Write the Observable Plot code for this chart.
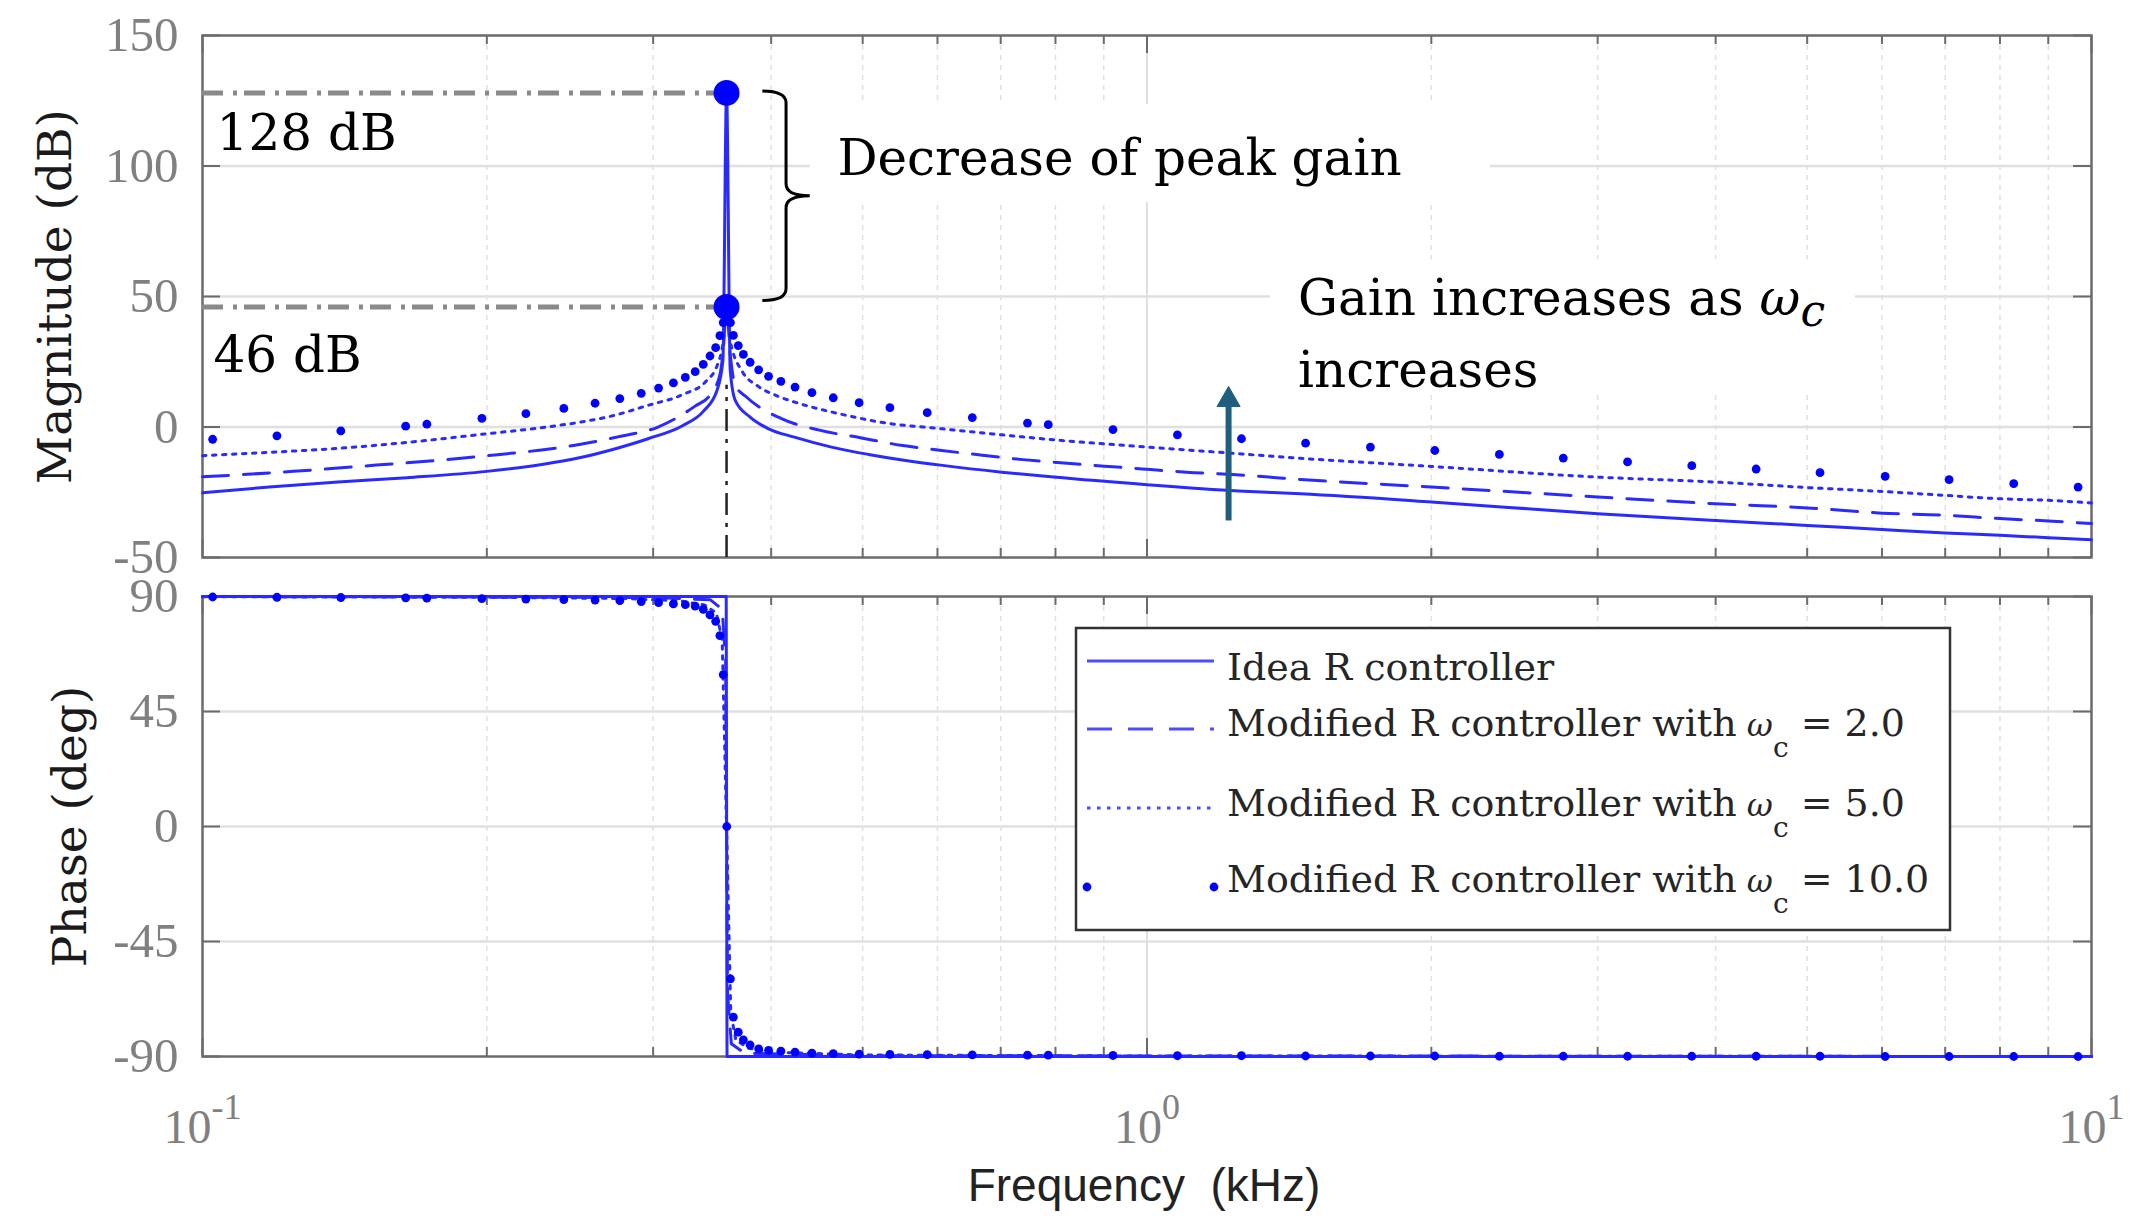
<!DOCTYPE html>
<html>
<head>
<meta charset="utf-8">
<script src="https://cdn.jsdelivr.net/npm/d3@7"></script>
<script src="https://cdn.jsdelivr.net/npm/@observablehq/plot@0.6"></script>
<style>
  html, body { margin: 0; padding: 0; background: #fff; }
  #chart { position: relative; width: 2144px; height: 1225px; overflow: hidden; background: #fff; }
  #chart svg { display: block; position: absolute; left: 0; overflow: visible; }
</style>
</head>
<body>
<div id="chart"></div>
<script>
// ---------------- data ----------------
const f0 = 0.3588; // resonant frequency, kHz

// Ideal R controller – magnitude (dB)
const freqIdeal = [0.1, 0.1177, 0.1392, 0.1647, 0.2, 0.2304, 0.2506, 0.2725, 0.2963, 0.3223, 0.339, 0.3505, 0.3556, 0.3588, 0.362, 0.3665, 0.38, 0.3975, 0.4233, 0.4634, 0.5072, 0.5549, 0.6074, 0.7019, 0.7962, 1.0, 1.25, 1.454, 2, 3, 4, 5, 6, 7, 8, 9, 10];
const magIdeal  = [-25.2, -23.0, -21.1, -19.4, -17.0, -14.2, -11.8, -8.5, -4.5, 0.5, 6.0, 14.0, 25.3, 128, 22, 10.2, 3.8, -0.7, -3.9, -7.7, -10.5, -12.8, -14.7, -17.3, -19.2, -22.1, -24.5, -25.6, -28.7, -33.2, -35.8, -37.7, -39.3, -40.6, -41.5, -42.4, -43.2];

// Modified R controller, wc = 2.0 – magnitude (dB)
const freqWc2 = [0.1, 0.1248, 0.1527, 0.1867, 0.2065, 0.2285, 0.2506, 0.276, 0.3027, 0.332, 0.345, 0.353, 0.356, 0.3588, 0.362, 0.3665, 0.3766, 0.4102, 0.451, 0.497, 0.5488, 0.6061, 0.6694, 0.7392, 0.8164, 0.9016, 1.0, 1.101, 1.219, 1.346, 1.454, 2, 3, 4, 5, 6, 7, 8, 9, 10];
const magWc2  = [-19.1, -17.0, -14.6, -12.1, -10.5, -8.8, -6.7, -3.7, -0.2, 7.9, 12.5, 20.0, 30.0, 46.0, 28.0, 16.0, 11.5, 3.2, -1.3, -4.1, -7.0, -9.0, -10.8, -12.5, -13.8, -15.0, -16.2, -17.3, -18.1, -19.2, -20.1, -23.0, -26.8, -29.4, -31.0, -33.0, -33.8, -35.1, -36.0, -37.0];

// Modified R controller, wc = 5.0 – magnitude (dB)
const freqWc5 = [0.1, 0.1177, 0.1392, 0.1647, 0.2, 0.2304, 0.2506, 0.2725, 0.2963, 0.3223, 0.3419, 0.351, 0.356, 0.3588, 0.362, 0.3732, 0.3864, 0.4047, 0.4292, 0.4718, 0.521, 0.6074, 0.7019, 0.7962, 1.0, 1.142, 1.454, 2, 3, 4, 5, 6, 7, 8, 9, 10];
const magWc5  = [-11.0, -9.7, -8.2, -5.9, -2.6, -0.1, 1.8, 4.4, 8.3, 12.4, 17.8, 24.0, 33.0, 46.0, 33.0, 21.0, 15.9, 12.1, 8.9, 5.1, 1.9, -0.7, -3.0, -4.9, -7.7, -9.2, -12.0, -15.1, -19.2, -21.1, -23.2, -24.7, -26.2, -27.5, -28.1, -29.1];

// Modified R controller, wc = 10.0 – sample points (markers only)
const freqWc10  = [0.1025, 0.1199, 0.1401, 0.1641, 0.1728, 0.1976, 0.22, 0.2413, 0.2604, 0.2766, 0.2914, 0.304, 0.3152, 0.3245, 0.3324, 0.339, 0.3446, 0.3494, 0.353, 0.3559, 0.359, 0.3622, 0.3648, 0.3692, 0.3738, 0.38, 0.388, 0.3975, 0.4096, 0.424, 0.4418, 0.4654, 0.4957, 0.5343, 0.5852, 0.6532, 0.7472, 0.7861, 0.9204, 1.077, 1.259, 1.472, 1.724, 2.017, 2.361, 2.759, 3.227, 3.774, 4.415, 5.159, 6.047, 7.067, 8.273, 9.678];
const magWc10   = [-4.7, -3.4, -1.5, 0.3, 1.1, 3.3, 5.1, 7.1, 9.1, 10.9, 12.9, 14.9, 16.9, 19.0, 21.2, 24.0, 27.2, 30.4, 35.0, 40.0, 46.0, 40.0, 35.1, 31.2, 27.8, 24.8, 21.9, 19.4, 17.5, 15.3, 13.2, 11.2, 9.3, 7.4, 5.5, 3.6, 1.5, 0.9, -1.0, -3.0, -4.5, -6.2, -7.7, -9.0, -10.5, -11.9, -13.4, -14.8, -16.1, -17.5, -18.9, -20.2, -21.7, -23.0];
const phaseWc10 = [89.8, 89.7, 89.6, 89.5, 89.4, 89.2, 89.0, 88.8, 88.6, 88.4, 88.0, 87.6, 87.1, 86.8, 86.2, 85.0, 82.8, 80.3, 74.7, 59.4, 0.0, -59.6, -74.6, -80.5, -83.5, -85.5, -87.0, -87.6, -87.9, -88.3, -88.7, -88.9, -89.1, -89.2, -89.3, -89.4, -89.5, -89.5, -89.6, -89.7, -89.7, -89.8, -89.8, -89.8, -89.9, -89.9, -89.9, -89.9, -89.9, -89.9, -90.0, -90.0, -90.0, -90.0];

// Phase (deg) of the line series
const freqPhIdeal = [0.1, 0.3585, 0.3592, 10];
const phaseIdeal  = [90, 90, -90, -90];
const freqPhWc2 = [0.1, 0.3, 0.345, 0.355, 0.358, 0.3588, 0.3596, 0.363, 0.375, 0.5, 10];
const phaseWc2  = [90, 89.6, 88.7, 85, 65, 0, -65, -85, -88.7, -89.7, -90];
const freqPhWc5 = [0.1, 0.2, 0.28, 0.32, 0.34, 0.35, 0.355, 0.3588, 0.3625, 0.367, 0.378, 0.4, 0.5, 1, 10];
const phaseWc5  = [89.9, 89.7, 89.2, 88.3, 86.7, 83.5, 73, 0, -73, -83.5, -86.7, -88.3, -89.4, -89.8, -90];

// Peak annotations
const peakValues = [128, 46];

// Ticks
const xMajor = [0.1, 1, 10];
const xMinor = [0.2, 0.3, 0.4, 0.5, 0.6, 0.7, 0.8, 0.9, 2, 3, 4, 5, 6, 7, 8, 9];
const magTicks = [-50, 0, 50, 100, 150];
const phaseTicks = [-90, -45, 0, 45, 90];

// Text
const magLabel = "Magnitude (dB)";
const phaseLabel = "Phase (deg)";
const freqLabel = "Frequency\u00a0 (kHz)";
const legendNames = ["Idea R controller", "Modified R controller with", "Modified R controller with", "Modified R controller with"];
const legendWc = [null, "2.0", "5.0", "10.0"];

// Annotations (data coordinates: kHz, dB)
const notes = [
  {text: "128 dB", f: 0.1035, v: 106.2},
  {text: "46 dB", f: 0.1027, v: 21.0},
  {text: "Decrease of peak gain", f: 0.4701, v: 96.7},
  {text: "increases", f: 1.4454, v: 15.3}
];
const gainText = "Gain increases as";
const gainNote = [{text: gainText, f: 1.4454, v: 42.9}];
const whiteBoxes = [
  {x1: 0.4402, x2: 2.311, y1: 86, y2: 123.5},
  {x1: 1.351, x2: 5.625, y1: 13.5, y2: 64}
];
const brace = {f1: 0.392, f2: 0.44, top: 128.5, bottom: 48.3};
const arrow = [{f: 1.22, from: -36, to: 8, head: 10.4}];

// ---------------- styling ----------------
const W = 2144, ML = 202, MR = 53;
const BLUE = "#2a2aff", DOTBLUE = "#0000ff", TEAL = "#1f5e7e";
const GRID = "#e0e0e0", AXC = "#6b6b6b";
const serif = "DejaVu Serif";
const LW = 3;

const rows = (fs, vs) => fs.map((f, i) => ({f, v: vs[i]}));

function frameTicks(innerW, innerH, yTicks) {
  return [
    Plot.ruleX(xMinor, {insetTop: innerH - 9, stroke: AXC, strokeWidth: 2}),
    Plot.ruleX(xMinor, {insetBottom: innerH - 9, stroke: AXC, strokeWidth: 2}),
    Plot.ruleX(xMajor, {insetTop: innerH - 18, stroke: AXC, strokeWidth: 2}),
    Plot.ruleX(xMajor, {insetBottom: innerH - 18, stroke: AXC, strokeWidth: 2}),
    Plot.ruleY(yTicks, {insetRight: innerW - 18, stroke: AXC, strokeWidth: 2}),
    Plot.ruleY(yTicks, {insetLeft: innerW - 18, stroke: AXC, strokeWidth: 2}),
    Plot.frame({stroke: AXC, strokeWidth: 2.5})
  ];
}

function xGrid() {
  return [
    Plot.ruleX(xMinor, {stroke: GRID, strokeWidth: 1.5, strokeDasharray: "5,5"}),
    Plot.ruleX([1], {stroke: GRID, strokeWidth: 2})
  ];
}

// ---------------- magnitude panel ----------------
const topH = 580, topMT = 35, topMB = 23;
const topInnerH = topH - topMT - topMB, innerW = W - ML - MR;

const braceMark = (index, scales) => {
  const x = scales.x, y = scales.y;
  const xL = x(brace.f1), xT = x(brace.f2), xM = (xL + xT) / 2;
  const yT = y(brace.top), yB = y(brace.bottom), yM = (yT + yB) / 2, r = 12;
  const d = `M${xL},${yT} Q${xM},${yT} ${xM},${yT + r} L${xM},${yM - r} Q${xM},${yM} ${xT},${yM} ` +
            `Q${xM},${yM} ${xM},${yM + r} L${xM},${yB - r} Q${xM},${yB} ${xL},${yB}`;
  return d3.create("svg:path").attr("d", d).attr("fill", "none").attr("stroke", "#000").attr("stroke-width", 3).node();
};

const topPlot = Plot.plot({
  width: W, height: topH, marginTop: topMT, marginBottom: topMB, marginLeft: ML, marginRight: MR,
  style: {fontFamily: "Liberation Serif", fontSize: "48px", color: "#808080", background: "white"},
  x: {type: "log", domain: [0.1, 10], axis: null},
  y: {domain: [-50, 150]},
  marks: [
    Plot.gridY([0, 50, 100], {stroke: GRID, strokeOpacity: 1, strokeWidth: 2.5}),
    ...xGrid(),
    Plot.rect(whiteBoxes, {x1: "x1", x2: "x2", y1: "y1", y2: "y2", fill: "white"}),
    Plot.axisY({ticks: magTicks, tickSize: 0, tickPadding: 24, tickFormat: d => String(d), label: null, fontSize: 49}),
    ...frameTicks(innerW, topInnerH, magTicks),
    Plot.ruleY(peakValues, {x1: 0.1, x2: f0, stroke: "#8a8a8a", strokeWidth: 5, strokeDasharray: "21 10 4 7"}),
    Plot.ruleX([f0], {y1: -50, y2: 16, stroke: "#222", strokeWidth: 2.5, strokeDasharray: "22 8 4 8"}),
    Plot.line(rows(freqIdeal, magIdeal), {x: "f", y: "v", stroke: BLUE, strokeWidth: LW, curve: "monotone-x"}),
    Plot.line(rows(freqWc2, magWc2), {x: "f", y: "v", stroke: BLUE, strokeWidth: LW, strokeDasharray: "26 15", curve: "monotone-x"}),
    Plot.line(rows(freqWc5, magWc5), {x: "f", y: "v", stroke: BLUE, strokeWidth: LW, strokeDasharray: "3.5 6.5", curve: "monotone-x"}),
    Plot.dot(rows(freqWc10, magWc10), {x: "f", y: "v", r: 4.4, fill: DOTBLUE}),
    Plot.dot(peakValues.map(v => ({f: f0, v})), {x: "f", y: "v", r: 13, fill: DOTBLUE}),
    Plot.ruleX(arrow, {x: "f", y1: "from", y2: "to", stroke: TEAL, strokeWidth: 6}),
    Plot.dot(arrow, {x: "f", y: "head", symbol: "triangle", r: 8.6, fill: TEAL, stroke: TEAL, strokeWidth: 1}),
    braceMark,
    Plot.text(notes, {x: "f", y: "v", text: "text", textAnchor: "start", lineAnchor: "bottom", fontFamily: serif, fontSize: 50, fill: "#000"}),
    Plot.text(gainNote, {x: "f", y: "v", text: "text", textAnchor: "start", lineAnchor: "bottom", fontFamily: serif, fontSize: 50, fill: "#000"}),
    Plot.text([magLabel], {frameAnchor: "left", text: d => d, rotate: -90, dx: -132, textAnchor: "middle", lineAnchor: "bottom", fontFamily: serif, fontSize: 47, fill: "#1a1a1a"})
  ]
});

// omega_c in the annotation
d3.select(topPlot).selectAll("text").filter(function () { return this.textContent === gainText; }).each(function () {
  d3.select(this).append("tspan").attr("font-style", "italic").text(" \u03c9");
  d3.select(this).append("tspan").attr("font-style", "italic").attr("font-size", 44).attr("dy", 11).text("c");
});

// ---------------- phase panel ----------------
const botH = 645, botMT = 16, botMB = 169;
const botInnerH = botH - botMT - botMB;

const legendMark = () => {
  const g = d3.create("svg:g").attr("transform", "translate(1076,48)").attr("text-anchor", "start");
  g.append("rect").attr("x", 0).attr("y", 0).attr("width", 874).attr("height", 302)
    .attr("fill", "white").attr("stroke", "#333").attr("stroke-width", 2.5);
  const lineY = [33, 101, 180, 259];
  const textY = [52, 108, 188, 264];
  const dash = [null, "25 16", "3.5 6.5"];
  for (let i = 0; i < 4; i++) {
    if (i < 3) {
      const l = g.append("line").attr("x1", 11).attr("x2", 138).attr("y1", lineY[i]).attr("y2", lineY[i])
        .attr("stroke", "#4d4dff").attr("stroke-width", LW);
      if (dash[i]) l.attr("stroke-dasharray", dash[i]);
    } else {
      g.append("circle").attr("cx", 11).attr("cy", lineY[i]).attr("r", 4.4).attr("fill", DOTBLUE);
      g.append("circle").attr("cx", 138).attr("cy", lineY[i]).attr("r", 4.4).attr("fill", DOTBLUE);
    }
    const t = g.append("text").attr("x", 151).attr("y", textY[i]).attr("text-anchor", "start")
      .attr("font-family", serif).attr("font-size", 38).attr("fill", "#262626").text(legendNames[i]);
    if (legendWc[i]) {
      t.append("tspan").attr("font-style", "italic").attr("font-size", 32).text(" \u03c9");
      t.append("tspan").attr("font-size", 28).attr("dy", 21).text("c");
      t.append("tspan").attr("dy", -21).text(" = " + legendWc[i]);
    }
  }
  return g.node();
};

const botPlot = Plot.plot({
  width: W, height: botH, marginTop: botMT, marginBottom: botMB, marginLeft: ML, marginRight: MR,
  style: {fontFamily: "Liberation Serif", fontSize: "48px", color: "#808080", background: "transparent"},
  x: {type: "log", domain: [0.1, 10]},
  y: {domain: [-90, 90]},
  marks: [
    Plot.gridY([-45, 0, 45], {stroke: GRID, strokeOpacity: 1, strokeWidth: 2.5}),
    ...xGrid(),
    Plot.axisY({ticks: phaseTicks, tickSize: 0, tickPadding: 24, tickFormat: d => String(d), label: null, fontSize: 49}),
    Plot.axisX({ticks: xMajor, tickSize: 0, tickPadding: 52, tickFormat: d => String(Math.round(Math.log10(d))), label: null, fontSize: 48}),
    ...frameTicks(innerW, botInnerH, phaseTicks),
    Plot.line(rows(freqPhIdeal, phaseIdeal), {x: "f", y: "v", stroke: BLUE, strokeWidth: LW}),
    Plot.line(rows(freqPhWc2, phaseWc2), {x: "f", y: "v", stroke: BLUE, strokeWidth: LW, strokeDasharray: "26 15"}),
    Plot.line(rows(freqPhWc5, phaseWc5), {x: "f", y: "v", stroke: BLUE, strokeWidth: LW, strokeDasharray: "3.5 6.5"}),
    Plot.dot(rows(freqWc10, phaseWc10), {x: "f", y: "v", r: 4.4, fill: DOTBLUE}),
    legendMark,
    Plot.text([phaseLabel], {frameAnchor: "left", text: d => d, rotate: -90, dx: -117, textAnchor: "middle", lineAnchor: "bottom", fontFamily: serif, fontSize: 47, fill: "#1a1a1a"}),
    Plot.text([freqLabel], {frameAnchor: "bottom", text: d => d, dy: 144, dx: -3, lineAnchor: "bottom", fontFamily: "Liberation Sans", fontSize: 46, fill: "#222"})
  ]
});

// superscript exponents on the x tick labels: 10^-1, 10^0, 10^1
d3.select(botPlot).selectAll('g[aria-label="x-axis tick label"] text').each(function () {
  const e = this.textContent;
  this.textContent = "10";
  d3.select(this).append("tspan").attr("font-size", 36).attr("dy", -24).text(e);
});

const chart = document.getElementById("chart");
topPlot.style.top = "0px";
botPlot.style.top = "580px";
chart.appendChild(topPlot);
chart.appendChild(botPlot);
</script>
</body>
</html>
